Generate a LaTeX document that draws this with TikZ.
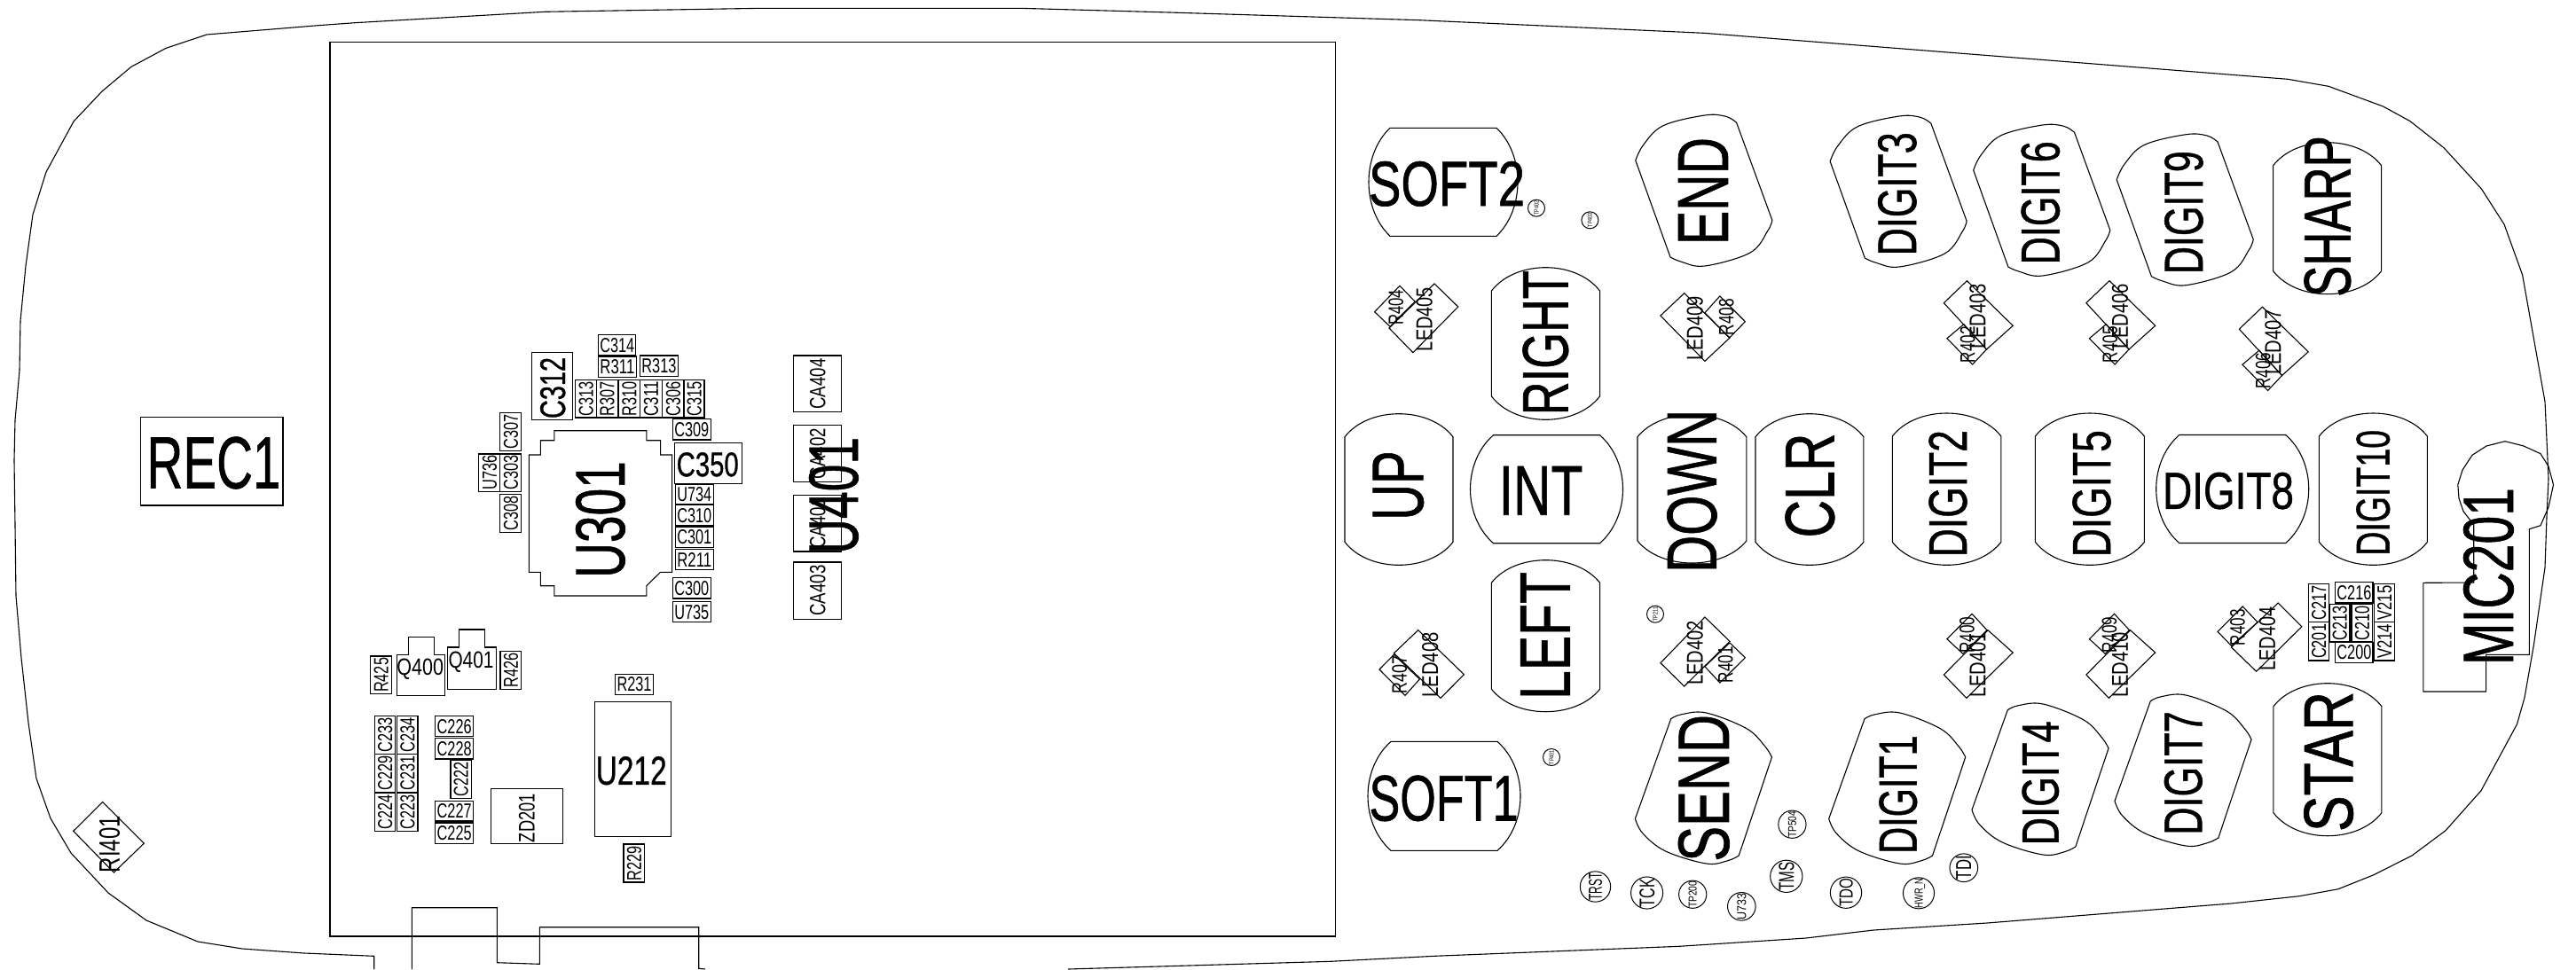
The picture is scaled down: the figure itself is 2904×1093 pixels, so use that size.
\documentclass[tikz,border=0pt]{standalone}
\usepackage{graphicx}
\usepackage{fontspec}
\setmainfont[BoldFont={Liberation Sans},BoldFeatures={FakeBold=0.9}]{Liberation Sans}
\newcommand{\fitx}[3]{\resizebox{#1pt}{#2pt}{\ifdim#2pt>25pt\bfseries\fi\raisebox{0pt}[\height][0pt]{#3}}}
\tikzset{
  ln/.style={draw=black,line width=1.1pt,line join=miter},
  bxs/.style={draw=black,line width=1.1pt,inner sep=0pt,outer sep=0pt,rectangle,text=black},
  tx/.style={inner sep=0pt,outer sep=0pt,text=black},
  tpt/.style={draw=black,line width=1pt,circle,inner sep=0pt,outer sep=0pt},
}
% plain box
\newcommand{\bxe}[5]{\node[bxs,minimum width={(#4-#2)*1pt},minimum height={(#5-#3)*1pt}] (#1) at ({(#2+#4)/2},{(#3+#5)/2}) {};}
% small box with horizontal / vertical label
\newcommand{\hcx}[5]{\node[bxs,minimum width={(#3-#1)*1pt},minimum height={(#4-#2)*1pt}] (#5) at ({(#1+#3)/2},{(#2+#4)/2}) {\fitx{39}{16}{#5}};}
\newcommand{\vcx}[5]{\node[bxs,minimum width={(#3-#1)*1pt},minimum height={(#4-#2)*1pt}] (#5) at ({(#1+#3)/2},{(#2+#4)/2}) {\rotatebox{90}{\fitx{39}{16}{#5}}};}
% free text
\newcommand{\tvx}[5]{\node[tx,rotate=90] (t#5) at (#1,#2) {\fitx{#3}{#4}{#5}};}
\newcommand{\thx}[5]{\node[tx] (t#5) at (#1,#2) {\fitx{#3}{#4}{#5}};}
% test point
\newcommand{\tpx}[7]{\node[tpt,minimum size={2*#4*1pt}] (#1) at (#2,#3) {\rotatebox{90}{\fitx{#5}{#6}{#7}}};}
% key shapes
\newcommand{\barrel}[5]{\draw[ln] ({#1-#3},{#2-#5}) -- ({#1+#3},{#2-#5})
  .. controls ({#1+#3+(#4-#3)*4/3},{#2-#5/2}) and ({#1+#3+(#4-#3)*4/3},{#2+#5/2}) .. ({#1+#3},{#2+#5})
  -- ({#1-#3},{#2+#5})
  .. controls ({#1-#3-(#4-#3)*4/3},{#2+#5/2}) and ({#1-#3-(#4-#3)*4/3},{#2-#5/2}) .. cycle;}
\newcommand{\capsu}[5]{\draw[ln] (#1,{#2+#5})
  .. controls ({#1+(#3-#1)*.22},{#2+#5-#5*4/3}) and ({#3-(#3-#1)*.22},{#2+#5-#5*4/3}) .. (#3,{#2+#5})
  -- (#3,{#4-#5})
  .. controls ({#3-(#3-#1)*.22},{#4-#5+#5*4/3}) and ({#1+(#3-#1)*.22},{#4-#5+#5*4/3}) .. (#1,{#4-#5})
  -- cycle;}
\newcommand{\skA}[2]{\draw[ln,shift={(#1,#2)}] plot[smooth,tension=.6] coordinates {(0,0) (-12,-7) (-35.7,-8.3) (-82.6,3.4) (-104.9,25) (-113.8,42.7)}
  -- plot[smooth,tension=.6] coordinates {(-74.6,151.7) (-62,157) (-35.7,161.7) (15.4,146.7) (35.4,121.7) (40.2,110)} -- cycle;}
\newcommand{\skB}[2]{\draw[ln,shift={(#1,#2)}] plot[smooth,tension=.6] coordinates {(0,0) (12,-5) (39.8,-6.7) (85.3,11) (106,31) (113.7,43.3)}
  -- plot[smooth,tension=.6] coordinates {(76.5,154.3) (64,160) (39.8,163.3) (-6,149.3) (-31.7,129.3) (-40.3,112.6)} -- cycle;}
% upper LED + resistor pair, laid out for LED403 / R402
\newcommand{\ledUp}[4]{\begin{scope}[shift={(#1,#2)}]
  \draw[ln] (2217.4,316.7) -- (2269.2,367.3) -- (2239.5,394) -- (2191.3,341.7) -- cycle;
  \draw[ln] (2213.8,365.7) -- (2239.5,394) -- (2223.6,411) -- (2194.9,381.7) -- cycle;
  \node[tx,rotate=90] (t#3) at (2229.3,356.7) {\fitx{73}{18}{#3}};
  \node[tx,rotate=90] (t#4) at (2218.2,388.8) {\fitx{41}{16.5}{#4}};
\end{scope}}
% lower LED + resistor pair, laid out for LED401 / R400
\newcommand{\ledLo}[4]{\begin{scope}[shift={(#1,#2)}]
  \draw[ln] (2223,692.3) -- (2240,710.7) -- (2212.8,737.3) -- (2194.9,720.7) -- cycle;
  \draw[ln] (2241,710.7) -- (2269.2,736) -- (2216.9,787.3) -- (2191.3,761) -- cycle;
  \node[tx,rotate=90] (t#3) at (2229.3,749.7) {\fitx{73}{18}{#3}};
  \node[tx,rotate=90] (t#4) at (2217.4,716.3) {\fitx{41}{16.5}{#4}};
\end{scope}}
\newcommand{\qdr}[8]{\draw[ln] (#1,#2) -- (#3,#4) -- (#5,#6) -- (#7,#8) -- cycle;}
\begin{document}
\begin{tikzpicture}[x=1pt,y=-1pt]
\useasboundingbox (0,0) rectangle (2904,1093);
% --- case outline
\draw[ln] (421.7,1093) -- (421.7,1078.3) -- (343,1075) -- (273,1070) -- (223,1062) -- (165,1038) -- (122,1007) -- (80,962) -- (57,923) -- (41,878) -- (32,815) -- (24,742) -- (18,672) -- (17,592) -- (16,519) -- (17,474) -- (22,418) -- (23,362) -- (29,300) -- (37,242) -- (52,194) -- (83,137) -- (115,103) -- (148,75.3) -- (187,54.4) -- (233,39) -- (360,28.6) -- (400,25.7) -- (614,13.3) -- (859,9.3) -- (1150,9.3) -- (1318,14) -- (1600,22.7) -- (1921,37.3) -- (2579,89.3) -- (2625,97.3) -- (2686.5,120) -- (2717,136.7) -- (2755,166.7) -- (2797.4,213) -- (2823,253) -- (2843.6,310) -- (2869,453) -- (2873,540) -- (2871,583) -- (2869,640) -- (2856.5,726.7) -- (2846,786.7) -- (2837.5,816.7) -- (2797,891.7) -- (2757,936.7) -- (2719,965) -- (2676,986.7) -- (2636,1002.7) -- (2592,1010.7) -- (2515,1019) -- (2240,1041) -- (2112,1049) -- (2036,1058) -- (1893,1067.3) -- (1617,1078.3) -- (1500,1084.3) -- (1204,1093);
% --- connector profile
\draw[ln] (464.3,1093) -- (464.3,1023.7) -- (560.3,1023.7) -- (560.3,1085.7) -- (608.3,1087.3) -- (608.3,1045.7) -- (787.7,1045.7) -- (787.7,1092.3) -- (795,1093);
% --- display
\bxe{display}{372}{47.7}{1505.6}{1056}
% --- REC1
\bxe{rec}{158.3}{470.4}{319}{570}
\thx{241}{521.6}{151}{58}{REC1}
\qdr{115.7}{904.5}{162.3}{951.2}{128.3}{984}{82.7}{937.3}
\tvx{123.3}{952}{64}{23}{RI401}
% --- U301 group
\draw[ln] (624.8,485.7) -- (728.8,485.7) -- (728.8,496.7) -- (744.6,496.7) -- (744.6,513) -- (757.6,513) -- (757.6,645.3) -- (744.6,645.3) -- (728.8,660.7) -- (728.8,672) -- (624.8,672) -- (624.8,660.7) -- (609.3,660.7) -- (609.3,645.3) -- (596.3,645.3) -- (596.3,513) -- (609.3,513) -- (609.3,496.7) -- (624.8,496.7) -- cycle;
\tvx{676.5}{586}{131.7}{55}{U301}
\bxe{c312}{599.9}{397.7}{645.3}{473.7}
\tvx{623}{437.5}{69}{28}{C312}
\hcx{674.6}{377.7}{716.9}{400.7}{C314}
\hcx{674.6}{402}{717.3}{425.3}{R311}
\hcx{721.6}{401}{764.3}{424.3}{R313}
\vcx{648.9}{428.3}{672.2}{471}{C313}
\vcx{672.2}{428.3}{696.3}{471}{R307}
\vcx{697.5}{428.3}{721.2}{471}{R310}
\vcx{721.2}{428.3}{746.5}{471}{C311}
\vcx{746.5}{428.3}{771}{471}{C306}
\vcx{771}{428.3}{794}{471}{C315}
\hcx{758.4}{472.7}{801.1}{496}{C309}
\bxe{c350}{760.8}{499.7}{836.7}{545.3}
\thx{797.7}{523.7}{70}{27}{C350}
\hcx{761.2}{546}{804.3}{569}{U734}
\hcx{761.2}{569.7}{804.3}{593}{C310}
\hcx{761.2}{594}{804.3}{617.3}{C301}
\hcx{761.2}{619.3}{804.3}{642.7}{R211}
\hcx{758.4}{651.7}{801.1}{675}{C300}
\hcx{758.4}{678.7}{801.1}{701.7}{U735}
\vcx{539.7}{512}{563.9}{554.3}{U736}
\vcx{563.9}{512}{587.6}{554.3}{C303}
\vcx{563.9}{465.3}{587.6}{508.3}{C307}
\vcx{563.9}{557.3}{587.6}{600.3}{C308}
% --- CA / U401
\bxe{ca404}{894.8}{401}{948.6}{464.3}
\tvx{921.7}{433}{57}{17.4}{CA404}
\bxe{ca402}{894.8}{479.7}{948.6}{543.3}
\tvx{921.7}{511.5}{57}{17.4}{CA402}
\bxe{ca401}{894.8}{558.3}{948.6}{622}
\tvx{921.7}{590}{57}{17.4}{CA401}
\bxe{ca403}{894.8}{634}{948.6}{698.3}
\tvx{921.7}{666}{57}{17.4}{CA403}
\tvx{939.5}{558.9}{132}{55}{U401}
% --- Q / lower-left parts
\draw[ln] (447.3,738.3) -- (460.7,738.3) -- (460.7,718.3) -- (489.7,718.3) -- (489.7,738.3) -- (501.7,738.3) -- (501.7,784.3) -- (447.3,784.3) -- cycle;
\thx{473.7}{752.5}{52.7}{18.5}{Q400}
\draw[ln] (504.7,730) -- (517.3,730) -- (517.3,710) -- (546.3,710) -- (546.3,730) -- (559.3,730) -- (559.3,777.7) -- (504.7,777.7) -- cycle;
\thx{531}{744.5}{51}{18.5}{Q401}
\vcx{417.7}{740}{441.7}{782.7}{R425}
\vcx{564}{734.7}{587.7}{777.7}{R426}
\hcx{693.7}{760.3}{736.3}{783.3}{R231}
\bxe{u212}{670.7}{791.7}{756.7}{943.3}
\thx{711.7}{869}{80}{31.7}{U212}
\vcx{703}{952}{726.7}{995}{R229}
\vcx{422.3}{807.3}{445.7}{850.3}{C233}
\vcx{447.7}{807.3}{471}{850.3}{C234}
\vcx{422.3}{850.3}{445.7}{894}{C229}
\vcx{447.7}{850.3}{471}{894}{C231}
\vcx{422.3}{894}{445.7}{937.3}{C224}
\vcx{447.7}{894}{471}{937.3}{C223}
\hcx{490.7}{807.3}{533.7}{830.7}{C226}
\hcx{490.7}{832.7}{533.7}{856}{C228}
\vcx{508}{857.7}{531.3}{900.7}{C222}
\hcx{490.7}{903.3}{533.7}{926}{C227}
\hcx{490.7}{928}{533.7}{951.7}{C225}
\bxe{zd}{553.3}{889.3}{634.7}{951.7}
\tvx{593.8}{922.5}{55}{17.7}{ZD201}
% --- barrel keys
\barrel{1627}{205.3}{60}{84}{61}
\thx{1631}{207}{176}{50}{SOFT2}
\barrel{1743.5}{551.7}{60}{86}{61}
\thx{1737}{553.3}{94.7}{54.7}{INT}
\barrel{2516.7}{551.5}{60}{86}{61}
\thx{2512}{553.3}{147.7}{41}{DIGIT8}
\barrel{1628}{897.8}{60}{86}{61.5}
\thx{1627.5}{900}{168}{51}{SOFT1}
% --- capsule keys
\capsu{1516}{466.7}{1638}{637.3}{26}
\tvx{1576}{547.5}{78.4}{56.5}{UP}
\capsu{1681.3}{301.7}{1803.6}{473.3}{26.5}
\tvx{1742}{386.7}{163}{51}{RIGHT}
\capsu{1846}{467.7}{1968.8}{635}{25}
\tvx{1907}{553.8}{184}{55.5}{DOWN}
\capsu{1979}{466.7}{2100.9}{637.3}{26}
\tvx{2040}{547.5}{118}{55}{CLR}
\capsu{1681.3}{631.7}{1803.6}{802.7}{25.6}
\tvx{1742}{717}{144}{55.7}{LEFT}
\capsu{2133.3}{466}{2255.9}{637.3}{26}
\tvx{2195.7}{556.7}{143}{42.6}{DIGIT2}
\capsu{2294.4}{466}{2417.4}{637.3}{26}
\tvx{2357.7}{556.7}{143}{42.6}{DIGIT5}
\capsu{2614.4}{466}{2736.4}{637.3}{26}
\tvx{2675}{555.8}{141.7}{37.4}{DIGIT10}
\capsu{2562.6}{160.7}{2684.6}{331.7}{26}
\tvx{2623.5}{244}{181.7}{52}{SHARP}
\capsu{2562.9}{770.7}{2684.9}{942.7}{26}
\tvx{2624.7}{859}{158}{55}{STAR}
% --- slanted keys
\skA{1957.6}{138.3}
\tvx{1920}{215.5}{121}{55.8}{END}
\skA{2176.9}{139.3}
\tvx{2138.5}{218.8}{139}{43}{DIGIT3}
\skA{2338.5}{149.3}
\tvx{2300}{228.8}{139}{43}{DIGIT6}
\skA{2500}{160}
\tvx{2461.6}{239.7}{139}{43}{DIGIT9}
\skB{1883.7}{810.7}
\tvx{1920.4}{888.8}{165.7}{57}{SEND}
\skB{2102}{810.7}
\tvx{2139.5}{896}{133.4}{42.3}{DIGIT1}
\skB{2263.3}{800.7}
\tvx{2300}{883.3}{140}{41}{DIGIT4}
\skB{2424.3}{790.7}
\tvx{2461}{872}{139.4}{42.4}{DIGIT7}
% --- MIC201
\draw[ln] (2851.3,596.7) -- (2864,592.7) -- (2873,572) -- (2878.5,546.7) -- (2873,526) -- (2864,511.7) -- (2845,503) -- (2824,497.7) -- (2803,503) -- (2787,513.3) -- (2776,530) -- (2770.8,546.7) -- (2772,562) -- (2777,576.7) -- (2788.7,591.7) -- (2788.7,657) -- (2731.8,657.3) -- (2731.8,780) -- (2802.6,780) -- (2802.6,738.3) -- (2851.3,738.3) -- cycle;
\tvx{2805}{650}{200}{56}{MIC201}
% --- C2xx cluster
\vcx{2602.7}{658.3}{2625.6}{701.7}{C217}
\vcx{2602.7}{701.7}{2625.6}{745}{C201}
\hcx{2632.8}{656.3}{2675}{680}{C216}
\vcx{2626}{681.3}{2649}{724}{C213}
\vcx{2651}{681.3}{2674.7}{724}{C210}
\hcx{2632.8}{724.3}{2675}{747.3}{C200}
\vcx{2676.4}{658.3}{2699.7}{701.7}{V215}
\vcx{2676.4}{701.7}{2699.7}{745}{V214}
% --- LED / R diamonds
\qdr{1578}{322.3}{1595}{340}{1567}{368.3}{1549.6}{351.7}
\qdr{1617}{320}{1643.8}{346}{1592.9}{397.7}{1566}{370}
\tvx{1573.6}{346.7}{40}{16.5}{R404}
\tvx{1605.5}{360}{72}{18}{LED405}
\qdr{1898.7}{330.7}{1950}{381}{1921.9}{407.3}{1871.9}{356}
\qdr{1938.8}{334}{1967.4}{362.7}{1949.6}{381}{1921.9}{352.7}
\tvx{1910.7}{370.3}{72.7}{18}{LED409}
\tvx{1946}{357.5}{41.6}{16.5}{R408}
\ledUp{0}{0}{LED403}{R402}
\ledUp{160.5}{0}{LED406}{R405}
\ledUp{333}{29.5}{LED407}{R406}
\ledLo{0}{0}{LED401}{R400}
\ledLo{160.5}{0}{LED410}{R409}
\qdr{2528.2}{684}{2545}{701.7}{2515.4}{728.3}{2500}{712.3}
\qdr{2568.2}{680}{2594.9}{706.7}{2543.6}{757.3}{2515.4}{730}
\tvx{2522.3}{707.8}{41}{16.5}{R403}
\tvx{2555.8}{720.5}{72}{18}{LED404}
\qdr{1571.4}{738.3}{1600.4}{766}{1584}{784.3}{1555}{755}
\qdr{1598.7}{710.7}{1650.4}{760.7}{1624}{787.3}{1571.4}{736.7}
\tvx{1577.5}{761.3}{42.7}{16.5}{R407}
\tvx{1612}{750}{73.4}{18}{LED408}
\qdr{1921.9}{696}{1950}{723.3}{1898.7}{774}{1871.9}{747.7}
\qdr{1950}{725}{1967.4}{741.7}{1938.8}{770}{1921.9}{751.7}
\tvx{1910.7}{736.3}{72.7}{18}{LED402}
\tvx{1945}{749.7}{41}{16.5}{R401}
% --- test points
\tpx{tp402}{1732}{234.7}{9.5}{16}{5}{TP402}
\tpx{tp403}{1792.4}{248.3}{9.5}{16}{5}{TP403}
\tpx{tp211}{1866}{692.7}{9.5}{16}{5}{TP211}
\tpx{tp401}{1749}{854}{9.5}{16}{5}{TP401}
\tpx{tp504}{2020.4}{929.7}{15.3}{30}{9}{TP504}
\tpx{tms}{2013.8}{988.3}{15.3}{32}{17}{TMS}
\tpx{trst}{1798.5}{1000}{15.3}{31}{14.8}{TRST}
\tpx{tck}{1856.6}{1007}{15.3}{32}{16.8}{TCK}
\tpx{tp200}{1908.2}{1008.7}{15.3}{30}{9}{TP200}
\tpx{u733}{1963.3}{1022.3}{15.3}{30}{10}{U733}
\tpx{tdo}{2081}{1006.7}{15.3}{32}{15}{TDO}
\tpx{hwr}{2163}{1007.3}{15.3}{34}{9}{HWR\_N}
\tpx{tdi}{2213.8}{978.7}{15.3}{27}{16.8}{TDI}
\end{tikzpicture}
\end{document}
